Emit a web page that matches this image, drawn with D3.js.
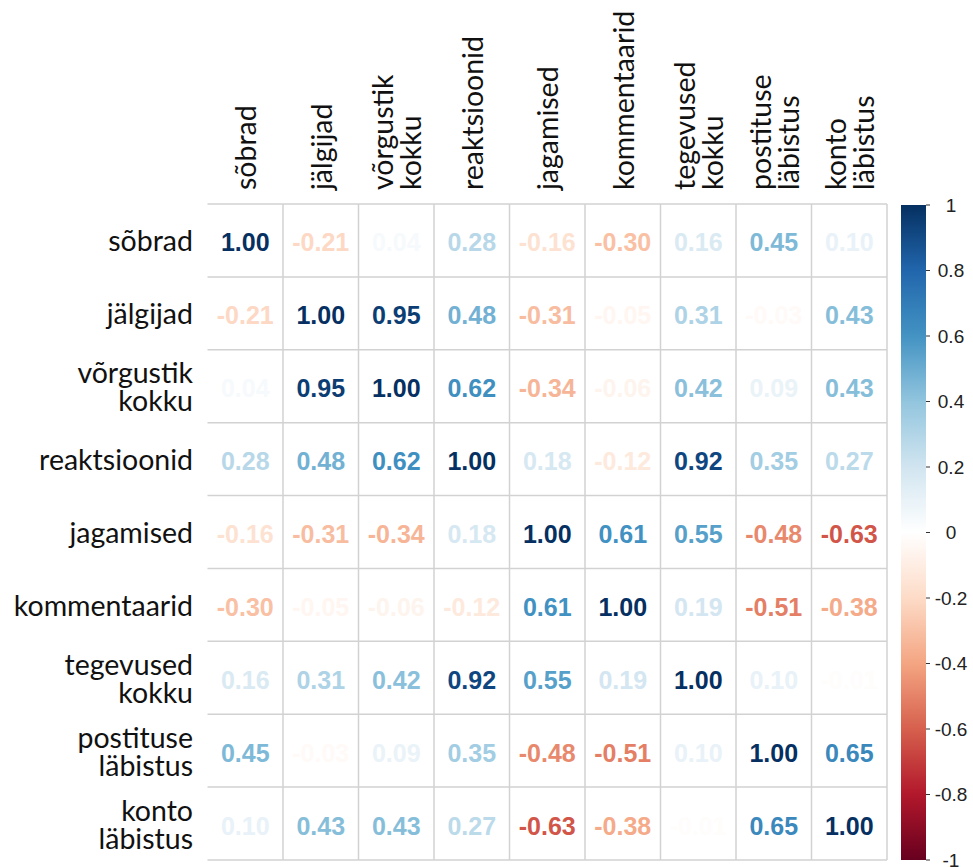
<!DOCTYPE html>
<html>
<head>
<meta charset="utf-8">
<script src="https://cdn.jsdelivr.net/npm/d3@7"></script>
<style>
  html, body { margin: 0; padding: 0; background: #ffffff; }
  svg { display: block; }
</style>
</head>
<body>
<svg id="chart" width="973" height="867"></svg>
<script>
// Variables (rows and columns share the same order); "\n" splits a label into lines
const variables = [
  "sõbrad", "jälgijad", "võrgustik\nkokku", "reaktsioonid", "jagamised",
  "kommentaarid", "tegevused\nkokku", "postituse\nläbistus", "konto\nläbistus"
];

// Correlation matrix, one array per row
const rowSobrad       = [ 1.00, -0.21,  0.04,  0.28, -0.16, -0.30,  0.16,  0.45,  0.10];
const rowJalgijad     = [-0.21,  1.00,  0.95,  0.48, -0.31, -0.05,  0.31, -0.03,  0.43];
const rowVorgustik    = [ 0.04,  0.95,  1.00,  0.62, -0.34, -0.06,  0.42,  0.09,  0.43];
const rowReaktsioonid = [ 0.28,  0.48,  0.62,  1.00,  0.18, -0.12,  0.92,  0.35,  0.27];
const rowJagamised    = [-0.16, -0.31, -0.34,  0.18,  1.00,  0.61,  0.55, -0.48, -0.63];
const rowKommentaarid = [-0.30, -0.05, -0.06, -0.12,  0.61,  1.00,  0.19, -0.51, -0.38];
const rowTegevused    = [ 0.16,  0.31,  0.42,  0.92,  0.55,  0.19,  1.00,  0.10, -0.01];
const rowPostituse    = [ 0.45, -0.03,  0.09,  0.35, -0.48, -0.51,  0.10,  1.00,  0.65];
const rowKonto        = [ 0.10,  0.43,  0.43,  0.27, -0.63, -0.38, -0.01,  0.65,  1.00];

const matrix = [rowSobrad, rowJalgijad, rowVorgustik, rowReaktsioonid, rowJagamised,
                rowKommentaarid, rowTegevused, rowPostituse, rowKonto];

// Colour bar tick values and their labels
const legendTicks = [1, 0.8, 0.6, 0.4, 0.2, 0, -0.2, -0.4, -0.6, -0.8, -1];
const legendTickLabels = ["1", "0.8", "0.6", "0.4", "0.2", "0", "-0.2", "-0.4", "-0.6", "-0.8", "-1"];

// Diverging red–white–blue palette
const palette = ["#67001F", "#B2182B", "#D6604D", "#F4A582", "#FDDBC7", "#FFFFFF",
                 "#D1E5F0", "#92C5DE", "#4393C3", "#2166AC", "#053061"];

const svg = d3.select("#chart");

const grid = { left: 207.5, right: 887, top: 204, bottom: 860 };

const keys = d3.range(variables.length);
const x = d3.scaleBand().domain(keys).range([grid.left, grid.right]);
const y = d3.scaleBand().domain(keys).range([grid.top, grid.bottom]);

const color = d3.scaleLinear()
  .domain(palette.map((_, i) => -1 + i * 0.2))
  .range(palette)
  .interpolate(d3.interpolateRgb);

const labelFont = "Lato, 'Open Sans', sans-serif";
const labelSize = 28.5;
const lineGap = 28;

// Grid lines
const gridG = svg.append("g").attr("stroke", "#d2d2d2").attr("stroke-width", 1.5);
keys.concat([variables.length]).forEach(i => {
  const yy = i < variables.length ? y(i) : grid.bottom;
  gridG.append("line").attr("x1", grid.left).attr("x2", grid.right).attr("y1", yy).attr("y2", yy);
});
keys.slice(1).concat([variables.length]).forEach(i => {
  const xx = i < variables.length ? x(i) : grid.right;
  gridG.append("line").attr("x1", xx).attr("x2", xx).attr("y1", grid.top).attr("y2", grid.bottom);
});

// Correlation values as coloured numbers
const cells = [];
matrix.forEach((row, r) => row.forEach((v, c) => cells.push({ r, c, v })));

svg.append("g").selectAll("text")
  .data(cells)
  .join("text")
  .attr("x", d => x(d.c) + x.bandwidth() / 2)
  .attr("y", d => y(d.r) + y.bandwidth() / 2 + 2)
  .attr("text-anchor", "middle")
  .attr("dominant-baseline", "central")
  .attr("font-family", "'Liberation Sans', Arial, sans-serif")
  .attr("font-weight", "bold")
  .attr("font-size", 25)
  .attr("fill", d => color(d.v))
  .text(d => d.v.toFixed(2));

// Row labels (right-aligned, multi-line centred on the row)
const rowLabels = svg.append("g");
variables.forEach((name, i) => {
  const lines = name.split("\n");
  const cy = y(i) + y.bandwidth() / 2;
  const t = rowLabels.append("text")
    .attr("text-anchor", "end")
    .attr("font-family", labelFont)
    .attr("font-size", labelSize)
    .attr("fill", "#111");
  lines.forEach((ln, k) => {
    t.append("tspan")
      .attr("x", 193)
      .attr("y", cy + (k - (lines.length - 1) / 2) * lineGap)
      .attr("dominant-baseline", "central")
      .text(ln);
  });
});

// Column labels (rotated, reading upward)
const colLabels = svg.append("g");
variables.forEach((name, i) => {
  const lines = name.split("\n");
  const cx = x(i) + x.bandwidth() / 2;
  const t = colLabels.append("text")
    .attr("transform", `translate(${cx},190) rotate(-90)`)
    .attr("text-anchor", "start")
    .attr("font-family", labelFont)
    .attr("font-size", labelSize)
    .attr("fill", "#111");
  lines.forEach((ln, k) => {
    t.append("tspan")
      .attr("x", 0)
      .attr("y", (k - (lines.length - 1) / 2) * lineGap)
      .attr("dominant-baseline", "central")
      .text(ln);
  });
});

// Colour bar
const bar = { x: 901, width: 25, top: 205, bottom: 860 };
const legendY = d3.scaleLinear().domain([1, -1]).range([bar.top, bar.bottom]);

const defs = svg.append("defs");
const grad = defs.append("linearGradient")
  .attr("id", "corr-gradient")
  .attr("x1", 0).attr("x2", 0).attr("y1", 0).attr("y2", 1);
palette.slice().reverse().forEach((c, i) => {
  grad.append("stop")
    .attr("offset", `${(i / (palette.length - 1)) * 100}%`)
    .attr("stop-color", c);
});

svg.append("rect")
  .attr("x", bar.x)
  .attr("y", bar.top)
  .attr("width", bar.width)
  .attr("height", bar.bottom - bar.top)
  .attr("fill", "url(#corr-gradient)");

const legendG = svg.append("g");
legendTicks.forEach((v, i) => {
  const yy = legendY(v);
  legendG.append("line")
    .attr("x1", bar.x + bar.width).attr("x2", bar.x + bar.width + 4)
    .attr("y1", yy).attr("y2", yy)
    .attr("stroke", "#333").attr("stroke-width", 1);
  legendG.append("text")
    .attr("x", 951)
    .attr("y", yy)
    .attr("text-anchor", "middle")
    .attr("dominant-baseline", "central")
    .attr("font-family", "'Liberation Sans', Arial, sans-serif")
    .attr("font-size", 19)
    .attr("fill", "#222")
    .text(legendTickLabels[i]);
});
</script>
</body>
</html>
